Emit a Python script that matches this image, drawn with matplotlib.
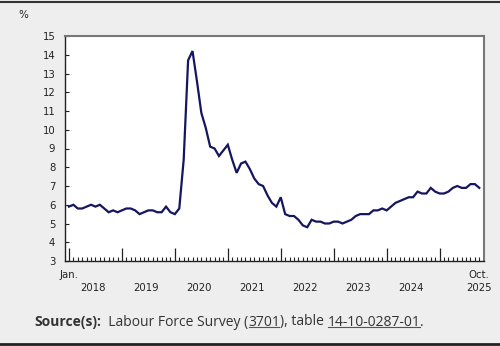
import matplotlib
matplotlib.use("Agg")
import matplotlib.pyplot as plt
from matplotlib.lines import Line2D
from matplotlib.ticker import FixedLocator, NullFormatter

years = [2018, 2019, 2020, 2021, 2022, 2023, 2024, 2025]
rate_2018 = [5.9, 6.0, 5.8, 5.8, 5.9, 6.0, 5.9, 6.0, 5.8, 5.6, 5.7, 5.6]
rate_2019 = [5.7, 5.8, 5.8, 5.7, 5.5, 5.6, 5.7, 5.7, 5.6, 5.6, 5.9, 5.6]
rate_2020 = [5.5, 5.8, 8.4, 13.7, 14.2, 12.6, 10.9, 10.1, 9.1, 9.0, 8.6, 8.9]
rate_2021 = [9.2, 8.4, 7.7, 8.2, 8.3, 7.9, 7.4, 7.1, 7.0, 6.5, 6.1, 5.9]
rate_2022 = [6.4, 5.5, 5.4, 5.4, 5.2, 4.9, 4.8, 5.2, 5.1, 5.1, 5.0, 5.0]
rate_2023 = [5.1, 5.1, 5.0, 5.1, 5.2, 5.4, 5.5, 5.5, 5.5, 5.7, 5.7, 5.8]
rate_2024 = [5.7, 5.9, 6.1, 6.2, 6.3, 6.4, 6.4, 6.7, 6.6, 6.6, 6.9, 6.7]
rate_2025 = [6.6, 6.6, 6.7, 6.9, 7.0, 6.9, 6.9, 7.1, 7.1, 6.9]
y_ticks = list(range(3, 16))

rates = (rate_2018 + rate_2019 + rate_2020 + rate_2021 + rate_2022
         + rate_2023 + rate_2024 + rate_2025)
months = list(range(len(rates)))

W, H = 500, 346
fig = plt.figure(figsize=(W / 100, H / 100), dpi=100)
fig.patch.set_facecolor("#eeeeee")

L, R, T, B = 65, 484, 36, 261
ax = fig.add_axes([L / W, 1 - B / H, (R - L) / W, (B - T) / H])
ax.set_facecolor("white")
ax.plot(months, rates, color="#151560", lw=1.6, solid_joinstyle="miter")

ax.set_ylim(3, 15)
ax.set_xlim(-0.9, len(rates) - 1 + 4.7 / 4.41)
ax.yaxis.set_major_locator(FixedLocator(y_ticks))
ax.tick_params(axis="y", direction="in", length=3, width=0.8, pad=7,
               labelsize=7.3, colors="#222222")
ax.xaxis.set_major_locator(FixedLocator([12 * i for i in range(len(years))]))
ax.xaxis.set_minor_locator(FixedLocator(months))
ax.xaxis.set_major_formatter(NullFormatter())
ax.tick_params(axis="x", which="major", direction="in", length=9.5, width=0.9, color="#222222")
ax.tick_params(axis="x", which="minor", direction="in", length=3, width=0.8, color="#222222")

for s in ["left", "bottom"]:
    ax.spines[s].set_color("#222222")
    ax.spines[s].set_linewidth(1.0)
for s in ["top", "right"]:
    ax.spines[s].set_color("#777777")
    ax.spines[s].set_linewidth(1.5)

tr = ax.get_xaxis_transform()
lab_kw = dict(fontsize=7.3, color="#222222", ha="center", va="center", transform=tr)
ax.text(0, -14 / 225, "Jan.", **lab_kw)
ax.text(len(rates) - 1, -14 / 225, "Oct.", **lab_kw)
for i, yr in enumerate(years):
    x = 12 * i + 5.5 if yr != years[-1] else len(rates) - 1
    ax.text(x, -27 / 225, str(yr), **lab_kw)

fig.text(23 / W, 1 - 15 / H, "%", fontsize=7.5, color="#222222", ha="center", va="center")

# frame lines top / bottom
fig.add_artist(Line2D([0, 1], [1 - 1.5 / H, 1 - 1.5 / H], color="#333333", lw=1.5))
fig.add_artist(Line2D([0, 1], [1 - 343.5 / H, 1 - 343.5 / H], color="#222222", lw=2))

# source line
fig.canvas.draw()
r = fig.canvas.get_renderer()
ypix = H - 322
pieces = [("Source(s):", "bold", False),
          ("  Labour Force Survey (", "normal", False),
          ("3701", "normal", True),
          ("), table ", "normal", False),
          ("14-10-0287-01", "normal", True),
          (".", "normal", False)]
xcur = 34
for txt, wt, ul in pieces:
    t = fig.text(xcur / W, ypix / H, txt, fontsize=10, fontweight=wt,
                 family="Open Sans", color="#333333", ha="left", va="center")
    bb = t.get_window_extent(renderer=r)
    if ul:
        fig.add_artist(Line2D([(bb.x0 + 0.5) / W, (bb.x1 - 0.5) / W], [(ypix - 5) / H] * 2,
                              color="#555555", lw=0.8))
    xcur = bb.x1

fig.savefig("out.png", dpi=100, facecolor=fig.get_facecolor())
